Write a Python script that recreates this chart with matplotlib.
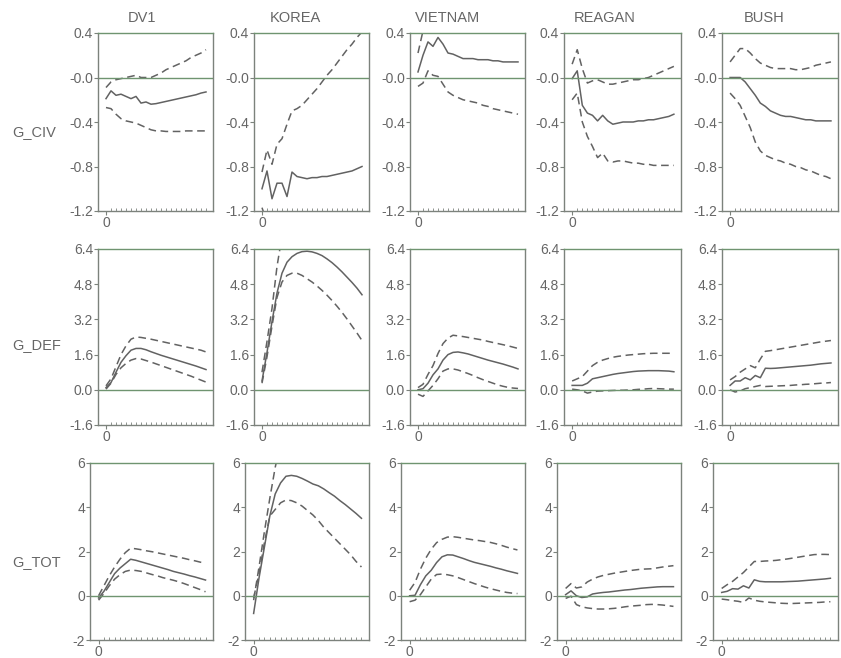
import matplotlib
matplotlib.use('Agg')
import matplotlib.pyplot as plt

plt.rcParams['font.family'] = ['Liberation Sans', 'DejaVu Sans']

# impulse response horizon (quarters)
horizon = list(range(21))
shocks = ['DV1', 'KOREA', 'VIETNAM', 'REAGAN', 'BUSH']
responses = ['G_CIV', 'G_DEF', 'G_TOT']

# G_CIV responses: mid = point estimate, hi/lo = bands
civ_dv1_mid = [-0.19, -0.12, -0.16, -0.15, -0.17, -0.19, -0.17, -0.23, -0.22, -0.24, -0.235, -0.225, -0.215, -0.205, -0.195, -0.185, -0.175, -0.165, -0.155, -0.14, -0.13]
civ_dv1_hi = [-0.09, -0.04, -0.02, -0.01, 0.0, 0.01, 0.02, 0.0, 0.0, 0.0, 0.02, 0.04, 0.07, 0.09, 0.11, 0.13, 0.15, 0.18, 0.2, 0.22, 0.25]
civ_dv1_lo = [-0.27, -0.28, -0.33, -0.37, -0.39, -0.4, -0.41, -0.43, -0.45, -0.47, -0.48, -0.48, -0.485, -0.485, -0.485, -0.485, -0.48, -0.48, -0.48, -0.48, -0.48]
civ_korea_mid = [-1.0, -0.84, -1.09, -0.95, -0.95, -1.07, -0.85, -0.89, -0.9, -0.91, -0.9, -0.9, -0.89, -0.89, -0.88, -0.87, -0.86, -0.85, -0.84, -0.82, -0.8]
civ_korea_hi = [-0.85, -0.65, -0.78, -0.6, -0.55, -0.42, -0.3, -0.28, -0.25, -0.2, -0.15, -0.1, -0.04, 0.02, 0.07, 0.13, 0.19, 0.25, 0.3, 0.36, 0.41]
civ_korea_lo = [-1.17, -1.3, -1.45, -1.4, -1.45, -1.6, -1.5, -1.55, -1.6, -1.65, -1.68, -1.72, -1.75, -1.8, -1.84, -1.88, -1.9, -1.94, -1.97, -1.99, -2.0]
civ_vietnam_mid = [0.05, 0.2, 0.32, 0.28, 0.36, 0.3, 0.22, 0.21, 0.19, 0.17, 0.17, 0.17, 0.16, 0.16, 0.16, 0.15, 0.15, 0.14, 0.14, 0.14, 0.14]
civ_vietnam_hi = [0.22, 0.42, 0.58, 0.55, 0.62, 0.58, 0.5, 0.48, 0.47, 0.46, 0.47, 0.48, 0.49, 0.5, 0.52, 0.53, 0.55, 0.56, 0.58, 0.59, 0.6]
civ_vietnam_lo = [-0.08, -0.05, 0.06, 0.02, 0.01, -0.06, -0.13, -0.16, -0.18, -0.2, -0.21, -0.22, -0.23, -0.25, -0.26, -0.28, -0.29, -0.3, -0.31, -0.32, -0.33]
civ_reagan_mid = [-0.01, 0.06, -0.25, -0.32, -0.34, -0.39, -0.34, -0.39, -0.42, -0.41, -0.4, -0.4, -0.4, -0.39, -0.39, -0.38, -0.38, -0.37, -0.36, -0.35, -0.33]
civ_reagan_hi = [0.12, 0.25, 0.08, -0.05, -0.03, -0.02, -0.04, -0.06, -0.06, -0.05, -0.04, -0.03, -0.02, -0.02, -0.01, 0.0, 0.02, 0.04, 0.06, 0.08, 0.1]
civ_reagan_lo = [-0.2, -0.14, -0.4, -0.53, -0.62, -0.72, -0.68, -0.75, -0.76, -0.75, -0.75, -0.76, -0.77, -0.77, -0.78, -0.78, -0.79, -0.79, -0.79, -0.79, -0.79]
civ_bush_mid = [0.0, 0.0, 0.0, -0.04, -0.1, -0.16, -0.23, -0.26, -0.3, -0.32, -0.34, -0.35, -0.35, -0.36, -0.37, -0.38, -0.38, -0.39, -0.39, -0.39, -0.39]
civ_bush_hi = [0.14, 0.2, 0.26, 0.26, 0.22, 0.17, 0.13, 0.11, 0.09, 0.08, 0.08, 0.08, 0.08, 0.07, 0.07, 0.08, 0.09, 0.11, 0.12, 0.13, 0.14]
civ_bush_lo = [-0.14, -0.19, -0.25, -0.35, -0.45, -0.58, -0.66, -0.7, -0.72, -0.74, -0.75, -0.77, -0.78, -0.8, -0.81, -0.83, -0.84, -0.86, -0.88, -0.89, -0.91]

# G_DEF responses
def_dv1_mid = [0.1, 0.33, 0.8, 1.25, 1.55, 1.8, 1.88, 1.88, 1.82, 1.73, 1.65, 1.57, 1.5, 1.43, 1.36, 1.29, 1.22, 1.15, 1.08, 1.0, 0.92]
def_dv1_hi = [0.18, 0.5, 1.05, 1.6, 2.0, 2.3, 2.4, 2.38, 2.34, 2.3, 2.25, 2.2, 2.15, 2.1, 2.05, 2.0, 1.95, 1.9, 1.85, 1.8, 1.72]
def_dv1_lo = [0.03, 0.3, 0.7, 1.0, 1.2, 1.35, 1.42, 1.4, 1.33, 1.26, 1.18, 1.1, 1.02, 0.94, 0.86, 0.78, 0.7, 0.62, 0.53, 0.44, 0.35]
def_korea_mid = [0.4, 1.7, 3.1, 4.4, 5.3, 5.8, 6.05, 6.2, 6.28, 6.3, 6.27, 6.2, 6.1, 5.95, 5.78, 5.58, 5.36, 5.12, 4.88, 4.62, 4.32]
def_korea_hi = [0.8, 2.2, 3.7, 5.6, 7.0, 7.8, 8.2, 8.4, 8.5, 8.5, 8.45, 8.4, 8.3, 8.2, 8.05, 7.9, 7.7, 7.5, 7.3, 7.1, 6.9]
def_korea_lo = [0.3, 1.5, 2.9, 4.2, 4.9, 5.2, 5.3, 5.3, 5.2, 5.05, 4.9, 4.72, 4.52, 4.3, 4.06, 3.8, 3.52, 3.22, 2.9, 2.58, 2.24]
def_vietnam_mid = [0.0, 0.05, 0.3, 0.68, 0.95, 1.35, 1.6, 1.7, 1.72, 1.68, 1.63, 1.56, 1.49, 1.42, 1.35, 1.29, 1.23, 1.17, 1.1, 1.03, 0.95]
def_vietnam_hi = [0.1, 0.25, 0.7, 1.1, 1.65, 2.1, 2.35, 2.48, 2.45, 2.42, 2.38, 2.34, 2.3, 2.26, 2.2, 2.15, 2.1, 2.05, 2.0, 1.94, 1.88]
def_vietnam_lo = [-0.2, -0.3, -0.05, 0.2, 0.5, 0.85, 0.95, 0.95, 0.9, 0.82, 0.74, 0.65, 0.55, 0.46, 0.38, 0.3, 0.22, 0.16, 0.11, 0.08, 0.06]
def_reagan_mid = [0.2, 0.2, 0.2, 0.3, 0.5, 0.55, 0.6, 0.65, 0.7, 0.74, 0.77, 0.8, 0.83, 0.85, 0.86, 0.87, 0.87, 0.87, 0.86, 0.85, 0.82]
def_reagan_hi = [0.4, 0.5, 0.6, 0.85, 1.1, 1.25, 1.35, 1.42, 1.48, 1.52, 1.55, 1.58, 1.6, 1.62, 1.64, 1.65, 1.66, 1.66, 1.66, 1.66, 1.66]
def_reagan_lo = [0.03, 0.0, -0.05, -0.15, -0.1, -0.06, -0.05, -0.04, -0.03, -0.02, -0.02, -0.01, 0.0, 0.02, 0.03, 0.05, 0.06, 0.05, 0.04, 0.03, 0.03]
def_bush_mid = [0.2, 0.4, 0.4, 0.55, 0.45, 0.65, 0.55, 0.98, 0.97, 0.98, 1.0, 1.02, 1.04, 1.06, 1.08, 1.1, 1.12, 1.15, 1.18, 1.2, 1.22]
def_bush_hi = [0.45, 0.6, 0.8, 0.95, 1.1, 1.0, 1.4, 1.75, 1.78, 1.82, 1.86, 1.9, 1.94, 1.98, 2.02, 2.06, 2.1, 2.14, 2.18, 2.21, 2.24]
def_bush_lo = [0.0, -0.1, -0.05, 0.05, 0.1, 0.15, 0.2, 0.15, 0.16, 0.17, 0.18, 0.19, 0.2, 0.22, 0.23, 0.25, 0.26, 0.28, 0.3, 0.31, 0.33]

# G_TOT responses
tot_dv1_mid = [-0.1, 0.2, 0.6, 1.0, 1.25, 1.45, 1.65, 1.6, 1.53, 1.46, 1.39, 1.32, 1.25, 1.18, 1.1, 1.04, 0.98, 0.91, 0.85, 0.78, 0.71]
tot_dv1_hi = [0.0, 0.45, 0.9, 1.3, 1.65, 1.95, 2.15, 2.12, 2.08, 2.03, 1.99, 1.94, 1.89, 1.84, 1.79, 1.74, 1.69, 1.63, 1.58, 1.52, 1.47]
tot_dv1_lo = [-0.2, 0.1, 0.45, 0.75, 0.95, 1.1, 1.16, 1.14, 1.1, 1.03, 0.96, 0.9, 0.82, 0.76, 0.7, 0.63, 0.55, 0.46, 0.37, 0.28, 0.18]
tot_korea_mid = [-0.8, 0.8, 2.2, 3.6, 4.6, 5.1, 5.4, 5.44, 5.4, 5.3, 5.18, 5.05, 4.97, 4.83, 4.66, 4.5, 4.3, 4.12, 3.92, 3.72, 3.5]
tot_korea_hi = [-0.2, 1.3, 2.9, 4.4, 5.8, 6.9, 7.4, 7.6, 7.7, 7.7, 7.65, 7.6, 7.55, 7.5, 7.4, 7.3, 7.2, 7.1, 7.0, 6.9, 6.8]
tot_korea_lo = [-0.1, 1.0, 2.4, 3.6, 3.9, 4.2, 4.33, 4.3, 4.2, 4.05, 3.85, 3.65, 3.4, 3.1, 2.85, 2.6, 2.35, 2.1, 1.85, 1.55, 1.3]
tot_vietnam_mid = [0.0, 0.02, 0.5, 0.9, 1.15, 1.5, 1.76, 1.85, 1.84, 1.76, 1.68, 1.59, 1.51, 1.45, 1.39, 1.33, 1.26, 1.2, 1.13, 1.07, 1.01]
tot_vietnam_hi = [0.25, 0.6, 1.2, 1.7, 2.1, 2.4, 2.55, 2.65, 2.67, 2.64, 2.6, 2.56, 2.52, 2.49, 2.45, 2.41, 2.35, 2.28, 2.2, 2.13, 2.07]
tot_vietnam_lo = [-0.27, -0.2, 0.05, 0.4, 0.75, 0.96, 0.98, 0.95, 0.9, 0.82, 0.73, 0.64, 0.55, 0.47, 0.39, 0.32, 0.26, 0.2, 0.15, 0.12, 0.1]
tot_reagan_mid = [0.05, 0.22, 0.0, -0.08, -0.05, 0.08, 0.12, 0.15, 0.17, 0.2, 0.23, 0.26, 0.28, 0.31, 0.34, 0.36, 0.38, 0.4, 0.41, 0.41, 0.41]
tot_reagan_hi = [0.33, 0.55, 0.35, 0.4, 0.62, 0.75, 0.85, 0.92, 0.97, 1.02, 1.06, 1.1, 1.14, 1.17, 1.2, 1.21, 1.22, 1.26, 1.3, 1.33, 1.36]
tot_reagan_lo = [-0.12, -0.02, -0.4, -0.5, -0.55, -0.58, -0.6, -0.6, -0.59, -0.57, -0.54, -0.5, -0.47, -0.45, -0.43, -0.4, -0.39, -0.4, -0.42, -0.45, -0.48]
tot_bush_mid = [0.15, 0.2, 0.32, 0.3, 0.45, 0.35, 0.72, 0.65, 0.63, 0.63, 0.63, 0.63, 0.64, 0.65, 0.66, 0.68, 0.7, 0.72, 0.74, 0.76, 0.79]
tot_bush_hi = [0.33, 0.5, 0.65, 0.85, 1.05, 1.3, 1.55, 1.55, 1.57, 1.58, 1.6, 1.63, 1.66, 1.7, 1.74, 1.78, 1.82, 1.86, 1.87, 1.87, 1.86]
tot_bush_lo = [-0.15, -0.18, -0.22, -0.25, -0.3, -0.1, -0.2, -0.25, -0.28, -0.3, -0.32, -0.34, -0.35, -0.35, -0.34, -0.33, -0.32, -0.31, -0.3, -0.28, -0.27]

# y axis ticks per row (labels as printed, EViews style)
civ_ticks = [0.4, 0.0, -0.4, -0.8, -1.2]
civ_labels = ['0.4', '-0.0', '-0.4', '-0.8', '-1.2']
def_ticks = [6.4, 4.8, 3.2, 1.6, 0.0, -1.6]
def_labels = ['6.4', '4.8', '3.2', '1.6', '0.0', '-1.6']
tot_ticks = [6, 4, 2, 0, -2]
tot_labels = ['6', '4', '2', '0', '-2']

panels = {
    'G_CIV': [(civ_dv1_mid, civ_dv1_hi, civ_dv1_lo), (civ_korea_mid, civ_korea_hi, civ_korea_lo),
              (civ_vietnam_mid, civ_vietnam_hi, civ_vietnam_lo), (civ_reagan_mid, civ_reagan_hi, civ_reagan_lo),
              (civ_bush_mid, civ_bush_hi, civ_bush_lo)],
    'G_DEF': [(def_dv1_mid, def_dv1_hi, def_dv1_lo), (def_korea_mid, def_korea_hi, def_korea_lo),
              (def_vietnam_mid, def_vietnam_hi, def_vietnam_lo), (def_reagan_mid, def_reagan_hi, def_reagan_lo),
              (def_bush_mid, def_bush_hi, def_bush_lo)],
    'G_TOT': [(tot_dv1_mid, tot_dv1_hi, tot_dv1_lo), (tot_korea_mid, tot_korea_hi, tot_korea_lo),
              (tot_vietnam_mid, tot_vietnam_hi, tot_vietnam_lo), (tot_reagan_mid, tot_reagan_hi, tot_reagan_lo),
              (tot_bush_mid, tot_bush_hi, tot_bush_lo)],
}
yticks = {'G_CIV': (civ_ticks, civ_labels), 'G_DEF': (def_ticks, def_labels), 'G_TOT': (tot_ticks, tot_labels)}

W, H = 841, 658
fig = plt.figure(figsize=(W / 100, H / 100), dpi=100)
fig.patch.set_facecolor('white')

# pixel boxes of the panels: (top, bottom) per row, lefts/rights per row
row_tb = [(33, 211), (249, 425), (463, 640)]
row_lefts = [[98, 254, 410, 564, 722], [98, 254, 410, 564, 722], [90, 245, 401, 557, 713]]
rights = [213, 369, 525, 681, 838]

line_col = '#626262'
spine_col = '#7c827c'
zero_col = '#6f9470'
text_col = '#666666'
dash = (0, (5, 3))

for r, resp in enumerate(responses):
    top, bot = row_tb[r]
    tk, tl = yticks[resp]
    for c, shock in enumerate(shocks):
        left = row_lefts[r][c]
        ax = fig.add_axes([left / W, 1 - bot / H, (rights[c] - left) / W, (bot - top) / H])
        mid, hi, lo = panels[resp][c]
        ax.plot(horizon, mid, color=line_col, lw=1.1)
        ax.plot(horizon, hi, color=line_col, lw=1.1, ls=dash)
        ax.plot(horizon, lo, color=line_col, lw=1.1, ls=dash)
        ax.axhline(0, color=zero_col, lw=1.0)
        ax.set_xlim(-1.6, 21.4)
        ax.set_ylim(min(tk), max(tk))
        ax.set_yticks(tk)
        ax.set_yticklabels(tl)
        ax.set_xticks([0])
        ax.set_xticklabels(['0'])
        ax.set_xticks(horizon[1:], minor=True)
        ax.tick_params(axis='y', direction='out', length=3, width=0.8, pad=0.5,
                       labelsize=10, colors=spine_col, labelcolor=text_col)
        ax.tick_params(axis='x', which='major', direction='out', length=3, width=0.8, pad=0.5,
                       labelsize=10, colors=spine_col, labelcolor=text_col)
        ax.tick_params(axis='x', which='minor', direction='in', length=2, width=0.6, colors=spine_col)
        for s in ax.spines.values():
            s.set_color(spine_col)
            s.set_linewidth(1.0)
        ax.spines['top'].set_color(zero_col)

# column titles and row labels
title_x = [142, 295, 448, 605, 764]
for c, shock in enumerate(shocks):
    fig.text(title_x[c] / W, 1 - 18 / H, shock, ha='center', va='center', fontsize=10.5, color=text_col)
row_y = [132, 345, 562]
for r, resp in enumerate(responses):
    fig.text(12 / W, 1 - row_y[r] / H, resp, ha='left', va='center', fontsize=10.5, color=text_col)

fig.savefig('out.png', dpi=100, facecolor='white')
